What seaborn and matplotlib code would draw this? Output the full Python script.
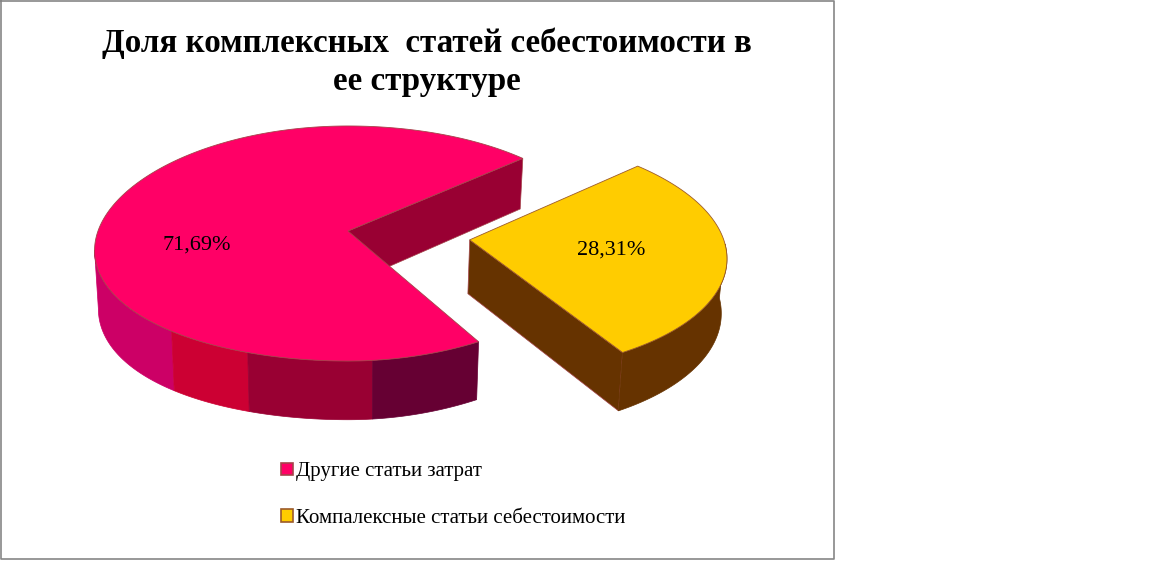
import numpy as np
import matplotlib
matplotlib.use("Agg")
import matplotlib.pyplot as plt
from matplotlib.patches import Patch
import seaborn as sns

sns.set_theme(style="white")
plt.rcParams['font.family'] = ['Liberation Serif', 'DejaVu Serif']

categories = ["Другие статьи затрат", "Компалексные статьи себестоимости"]
shares = [71.69, 28.31]
value_labels = ["71,69%", "28,31%"]
explode = [0.0, 0.485]
title = "Доля комплексных  статей себестоимости в\nее структуре"

top_colors = sns.color_palette(["#FF0066", "#FFCC00"])
edge_colors = ["#A5444A", "#9C5A2A"]
# shading of the pink rim, going round from the left side to the cut
rim_colors = ["#CC0066", "#CC0033", "#990033", "#660033"]
rim_breaks = [186, 230, 249, 275.5]
wall_pink = "#990033"
wall_gold = "#663300"

# pixel geometry of the tilted disc
CX, CY = 348, 231
RX, RY = 252, 116.2
K = 0.1064  # perspective
START = 42


def project(u, v, lower=False, pink=False):
    u, v = np.asarray(u, float), np.asarray(v, float)
    x = RX * u / (1 + K * v)
    y = -RY * v / (1 + K * v)
    sag = np.minimum(x, 0) / 254
    if pink:
        # the reference disc sags on the left and is narrower front right
        y = y + 7 * sag ** 2
        x = x - 8 * (np.maximum(x, 0) / 132) * (np.maximum(y, 0) / 110) ** 2
    if lower:
        x = x * 0.985
        y = y * 1.04 + 53.5
        if pink:
            y = y + 4 * sag ** 2
    return CX + x, CY + y


def arc(a0, a1, off, lower=False, n=120, pink=False):
    t = np.radians(np.linspace(a0, a1, n))
    return project(off[0] + np.cos(t), off[1] + np.sin(t), lower, pink)


def rim(ax, a0, a1, off, color, edge, pink=False):
    xt, yt = arc(a0, a1, off, pink=pink)
    xb, yb = arc(a0, a1, off, lower=True, pink=pink)
    ax.fill(np.r_[xt, xb[::-1]], np.r_[yt, yb[::-1]], fc=color, ec=edge, lw=0.5)


def wall(ax, angle, off, color, edge, pink=False):
    t = np.radians(angle)
    ends = [off[0], off[0] + np.cos(t)], [off[1], off[1] + np.sin(t)]
    xt, yt = project(*ends, pink=pink)
    xb, yb = project(*ends, lower=True, pink=pink)
    ax.fill(np.r_[xt, xb[::-1]], np.r_[yt, yb[::-1]], fc=color, ec=edge, lw=0.5)


fig = plt.figure(figsize=(11.56, 5.71), dpi=100)
ax = fig.add_axes([0, 0, 1, 1])
ax.set_xlim(0, 1156)
ax.set_ylim(571, 0)
ax.axis("off")

sweeps = np.array(shares) / sum(shares) * 360
pink_a0, pink_a1 = START, START + sweeps[0]
gold_a0, gold_a1 = pink_a1, pink_a1 + sweeps[1]
gold_mid = np.radians((gold_a0 + gold_a1) / 2)
pink_off = (0.0, 0.0)
gold_off = (explode[1] * np.cos(gold_mid), explode[1] * np.sin(gold_mid))

# pink slice: inner wall, rim bands, then the top
wall(ax, pink_a0, pink_off, wall_pink, edge_colors[0], pink=True)
bands = rim_breaks + [pink_a1]
for i, c in enumerate(rim_colors):
    rim(ax, bands[i], bands[i + 1], pink_off, c, c, pink=True)
xa, ya = arc(pink_a0, pink_a1, pink_off, n=400, pink=True)
ax.fill(np.r_[CX, xa], np.r_[CY, ya], fc=top_colors[0], ec=edge_colors[0], lw=0.6)

# gold slice
wall(ax, gold_a0, gold_off, wall_gold, edge_colors[0])
rim(ax, gold_a0, 358, gold_off, wall_gold, wall_gold)
xa, ya = arc(gold_a0, gold_a1, gold_off, n=200)
ax_x, ax_y = project(*gold_off)
ax.fill(np.r_[ax_x, xa], np.r_[ax_y, ya], fc=top_colors[1], ec=edge_colors[1], lw=0.6)

ax.text(196.5, 245, value_labels[0], ha="center", va="center", fontsize=16, color="black")
ax.text(611.5, 250, value_labels[1], ha="center", va="center", fontsize=16, color="black")

ax.text(427, 62.5, title, ha="center", va="center", fontsize=23.75, fontweight="bold",
        color="black", linespacing=1.3)

handles = [Patch(fc=top_colors[i], ec=edge_colors[i], lw=1.2, label=categories[i]) for i in range(2)]
ax.legend(handles=handles, loc="upper left", bbox_to_anchor=(275, 456), bbox_transform=ax.transData,
          frameon=False, fontsize=15, handlelength=0.55, handleheight=0.55, handletextpad=0.15,
          labelspacing=1.32, borderpad=0.3, borderaxespad=0, labelcolor="black")

# chart frame
ax.plot([1, 834, 834, 1, 1], [1, 1, 559, 559, 1], color="#868686", lw=1.2, clip_on=False)

fig.savefig("out.png", dpi=100, facecolor="white")
